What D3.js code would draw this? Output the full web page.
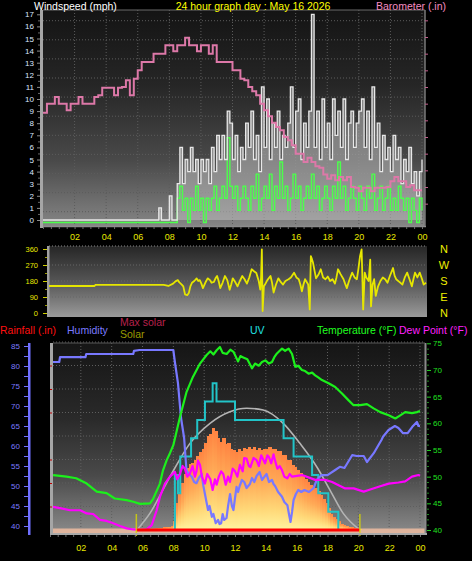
<!DOCTYPE html>
<html><head><meta charset="utf-8">
<script src="https://cdn.jsdelivr.net/npm/d3@7"></script>
<style>
body{margin:0;background:#000;overflow:hidden}
svg{display:block}
text{font-family:"Liberation Sans",Arial,sans-serif}
</style>
</head><body>
<svg id="c" width="472" height="561"></svg>
<script>
// ---------- DATA ----------
const hourLabels = ["02","04","06","08","10","12","14","16","18","20","22","00"];
const hourLabelHours = [2,4,6,8,10,12,14,16,18,20,22,24];

// wind, one value every 10 minutes from 00:00 to 24:00 (mph)
const windStepHours = 1/6;
const windGust = [
0,0,0,0,0,0,0,0,0,0, 0,0,0,0,0,0,0,0,0,0, 0,0,0,0,0,0,0,0,0,0, 0,0,0,0,0,0,0,0,0,0, 0,0,0,0,
1,0,0,0,2,0,0,
3,6,3,5,4,6,4,5,3,5,
4,5,3,6,4,7,5,7,5,9,
8,5,7,4,6,5,8,6,9,5,
7,4,11,6,10,5,8,6,9,5,
7,6,8,11,6,9,10,5,8,6,
9,17,6,9,5,10,6,8,5,10,
7,9,6,10,5,8,9,6,8,9,
10,6,9,5,11,6,8,4,7,5,
6,4,7,5,6,3,5,4,6,3,
4,2,4,5];
const windAvg = [
0,0,0,0,0,0,0,0,0,0, 0,0,0,0,0,0,0,0,0,0, 0,0,0,0,0,0,0,0,0,0, 0,0,0,0,0,0,0,0,0,0, 0,0,0,0,
0,0,0,0,0,0,0,
2,3,1,2,0,2,1,3,1,2,
0,2,1,2,3,1,2,3,2,7,
3,2,3,1,2,3,2,1,3,2,
4,1,2,3,2,4,1,3,2,5,
2,3,1,2,4,2,3,1,2,3,
2,4,2,3,1,2,3,2,1,3,
2,5,2,3,1,2,3,2,1,3,
2,1,3,2,4,1,2,3,1,2,
3,1,2,1,3,2,1,2,0,2,
1,0,2,1];
const windTicks = [0,1,2,3,4,5,6,7,8,9,10,11,12,13,14,15,16,17];

// barometer, one value every 15 minutes (inHg)
const baroStepHours = 0.25;
const baroValues = [
30.039,30.05,30.05,30.058,30.05,30.05,30.042,30.05,30.05,30.058,30.05,30.05,
30.05,30.058,30.06,30.069,30.069,30.069,30.06,30.069,30.07,30.078,30.06,30.08,
30.09,30.1,30.1,30.1,30.11,30.11,30.11,30.12,30.12,30.113,30.12,30.12,
30.129,30.12,30.12,30.113,30.12,30.12,30.11,30.12,30.1,30.1,30.1,30.1,
30.09,30.09,30.08,30.078,30.07,30.065,30.06,30.05,30.042,30.035,30.027,30.022,
30.018,30.01,30.006,30.0,29.99,29.99,29.98,29.985,29.98,29.975,29.973,29.965,
29.96,29.964,29.958,29.962,29.958,29.962,29.95,29.949,29.945,29.949,29.949,29.945,
29.949,29.949,29.949,29.95,29.957,29.962,29.957,29.957,29.95,29.952,29.946,29.946,
29.946];
const baroTicks = [29.92,29.94,29.96,29.98,30.0,30.02,30.04,30.06,30.08,30.1,30.12,30.14,30.16];
const baroTickLabels = ["29.92","29.94","29.96","29.98","30","30.02","30.04","30.06","30.08","30.1","30.12","30.14","30.16"];

// wind direction (degrees)
const dirHours = [0,2.9,2.95,7.3,7.6,7.9,8.05,8.2,8.3,8.45,8.55,8.66,8.8,8.9,9.0,9.1,9.25,9.4,9.5,9.6,9.7,9.8,9.95,10.1,10.25,10.35,10.5,10.6,10.7,10.8,10.9,11.05,11.2,11.35,11.5,11.6,11.7,11.85,12.0,12.15,12.3,12.45,12.6,12.75,12.9,13.05,13.2,13.35,13.45,13.5,13.55,13.6,13.68,13.75,13.9,14.1,14.2,14.3,14.45,14.6,14.75,14.9,15.05,15.25,15.4,15.6,15.75,15.9,16.0,16.1,16.2,16.3,16.4,16.5,16.6,16.67,16.75,16.8,16.9,17.0,17.15,17.3,17.45,17.6,17.75,17.9,18.05,18.2,18.3,18.4,18.55,18.75,18.85,18.96,19.1,19.3,19.45,19.6,19.7,19.8,19.9,19.95,20.0,20.1,20.2,20.35,20.45,20.5,20.6,20.7,20.8,20.95,21.1,21.25,21.4,21.55,21.7,21.8,21.9,22.0,22.1,22.3,22.5,22.65,22.8,22.95,23.1,23.2,23.3,23.45,23.6,23.75,23.85,24];
const dirValues = [152,152,158,158,152,165,178,185,172,160,150,105,100,112,150,170,180,195,180,185,165,140,170,195,185,170,175,195,208,180,140,170,208,185,131,160,195,175,150,180,208,190,165,200,246,235,225,180,131,200,358,11,150,160,185,208,170,115,160,195,175,160,180,190,200,227,200,190,160,122,160,190,175,160,20,320,300,286,240,195,215,246,200,190,205,180,190,165,200,246,220,190,165,140,180,227,200,190,250,320,358,200,20,227,200,180,300,37,160,190,96,150,180,200,190,170,208,230,253,210,190,175,160,200,227,190,150,190,227,200,227,190,160,170];
const dirTicks = [0,90,180,270,360];
const dirLetters = ["N","E","S","W","N"];

// humidity (%)
const humHours = [0,0.6,0.65,2.3,2.35,5.4,5.45,5.8,8.0,8.1,8.3,8.5,8.7,
  8.85,9.0,9.2,9.35,9.5,9.65,9.84,9.95,10.05,10.15,10.25,10.35,10.5,10.6,10.75,10.9,11.0,11.1,11.2,11.3,11.45,11.55,11.68,11.8,11.9,12.0,12.1,12.2,12.3,12.45,12.6,12.75,12.97,13.1,13.25,13.4,13.6,13.75,13.9,14.05,14.2,14.4,14.5,14.6,14.8,15.05,15.2,15.4,15.5,15.6,15.7,15.8,15.95,16.1,16.3,16.5,16.8,17.1,17.3,
  17.6,18.0,18.5,18.8,19.1,19.6,19.9,20.35,20.56,21.0,21.3,21.5,21.6,21.96,22.37,22.6,22.9,23.2,23.5,23.8,23.9,24];
const humValues = [81,81,82.2,82.2,83,83,83.8,84,84,81,75.7,67,62,
  54,53,52.3,51,50.7,52,53,50,48,46,44,45,42.3,43,40.7,41.5,40.5,40.7,43,41.5,42,45,48,45,44,47,49.8,48.5,50,51.5,51,49.5,50.5,52,51,52.5,53.5,51.5,52.3,53,51,51.5,50.5,50,48.5,47.3,46,45.2,43,41,43.5,46.5,48,49,48.5,49,48.5,49.5,51.5,
  52.7,52.7,54,54.8,54.5,57.7,57.5,57.5,56,58.2,60.2,61.5,62.3,64,65,64.5,63.2,63.2,64.8,66,65,65];
const humTicks = [40,45,50,55,60,65,70,75,80,85];

// temperature (°F)
const tempHours = [0.2,1.07,1.7,2.38,3.03,3.67,4.2,4.97,5.4,5.84,6.49,6.7,7.13,7.33,7.57,7.78,8.0,8.43,8.86,9.27,9.73,10.16,10.4,10.6,10.81,11.02,11.2,11.46,11.7,11.9,12.05,12.2,12.35,12.5,12.8,13.1,13.3,13.54,13.75,13.97,14.2,14.4,14.55,14.72,14.9,15.05,15.25,15.48,15.7,15.91,16.1,16.34,16.55,16.77,17.0,17.2,17.4,17.64,18.07,18.5,18.94,19.37,19.69,20.12,20.56,20.99,21.42,21.97,22.4,22.72,23.04,23.48,23.8,24];
const tempValues = [50.3,50,49.7,48.7,47.2,46.9,45.9,45.6,45.3,44.9,45,45.9,48.7,51.2,53.1,54.4,55.9,61.2,65.9,68.7,71.2,72.8,73.5,72.9,73.7,74.3,73.2,73,73.8,73.4,72.5,71.6,72.6,72.4,72,70.3,71.2,70.8,71.5,71.8,71.2,71.5,72.4,73.1,73.6,74,73.6,74,73,70.6,70.8,70,69.8,69.3,69.5,69,68.6,68.1,67.5,66.8,65.6,64.3,63.4,63.4,63.6,62.8,62.1,61.5,60.9,61.5,62.1,61.9,62.1,62.3];
// dew point (°F)
const dewHours = [0.1,0.65,1.3,1.95,2.38,2.8,3.24,3.67,4.1,4.54,4.97,5.4,5.84,6.27,6.6,6.92,7.13,7.46,7.78,
  8.1,8.25,8.43,8.6,8.75,8.9,9.08,9.25,9.4,9.5,9.6,9.73,9.85,10.05,10.2,10.4,10.55,10.7,10.81,10.95,11.1,11.24,11.4,11.55,11.67,11.85,12.0,12.15,12.32,12.5,12.6,12.75,12.9,13.0,13.2,13.4,13.55,13.7,13.8,13.95,14.1,14.2,14.35,14.5,14.6,14.75,14.9,15.05,15.2,15.4,15.55,15.7,
  16.35,17.2,17.85,18.3,18.72,19.15,19.7,20.35,20.67,21.32,21.97,22.6,23.04,23.48,23.9,24];
const dewValues = [44.4,44.1,43.7,43.7,43.1,43,41.9,41.7,41.25,40.75,40.3,40.1,40,40.1,40.9,43.7,46.2,48.7,50,
  50.9,49.5,50.5,52,51.5,50,50.6,52,50,51,53,52.2,50,48.7,50.5,49.5,47.5,49.5,48.5,50,51,50.5,48.5,50,49,51.5,51,50,52.2,51,53.5,53.4,52,51.8,53.5,53.1,52,54,53.4,52.5,54,53.7,52.5,54.2,53,51.5,52,51.2,50,49.7,50.5,50,
  50.3,49.4,49.4,49,48.4,47.8,47.8,47.2,47.5,48.1,48.7,48.9,49.1,50,50.3,50.2];
const tempTicks = [40,45,50,55,60,65,70,75];

// UV index (step changes, recorded 08:06 - 18:42)
const uvHours = [8.1,8.1,8.3,8.45,9.15,9.55,10.05,10.55,10.8,12.0,15.15,15.8,17.0,17.4,18.05,18.7];
const uvValues = [0,3,2,4,5,6,7,8,7,6,5,4,3,2,1,0];

// max solar (W/m2)
const maxSolarHours = [5.64,6.49,7.78,9.08,10.38,11.67,12.76,13.83,15.13,16.21,17.3,18.16,19.02,20.1];
const maxSolarValues = [0,108,340,553,681,755,777,766,681,553,404,255,106,0];

// solar (W/m2), one value every 10 minutes from 06:30
const solarStartHour = 6.5;
const solarStepHours = 1/6;
const solarValues = [5,8,10,12,15,18,20,22,25,
60,170,240,300,360,395,420,430,450,470,500,520,
555,600,615,650,630,585,
560,585,550,555,515,510,
495,515,505,525,515,532,
520,530,512,522,508,515,
520,528,515,520,505,502,
480,478,450,445,415,405,
383,365,345,325,305,290,
278,265,250,225,200,175,
140,105,85,70,55,40,
32,28,22,18,15,12,
8,0];

// rainfall (in)
const rainHours = [5.6,20.1];
const rainValues = [0,0];
const rainTicks = [0,0.1,0.2];
const rainTickLabels = ["0","0.1","0.2"];
const sunHours = [5.6,20.1];

// ---------- DRAW ----------
const svg = d3.select("#c");
const defs = svg.append("defs");
function vgrad(id, stops){
  const g = defs.append("linearGradient").attr("id", id)
    .attr("x1",0).attr("y1",0).attr("x2",0).attr("y2",1);
  stops.forEach(s => g.append("stop").attr("offset", s[0]).attr("stop-color", s[1]));
  return g;
}
vgrad("bgTop", [[0,"#141414"],[0.35,"#262626"],[0.7,"#4a4a4a"],[1,"#858585"]]);
vgrad("bgDir", [[0,"#262626"],[0.5,"#555555"],[1,"#9a9a9a"]]);
vgrad("bgBot", [[0,"#151515"],[0.4,"#2a2a2a"],[0.7,"#4a4a4a"],[1,"#8a8a8a"]]);
vgrad("solarG", [[0,"#ff8442"],[0.4,"#ffa956"],[0.75,"#ffd878"],[1,"#fff5a0"]]);

const FONT = "Liberation Sans, Arial, sans-serif";
function txt(x,y,s,color,size,anchor){
  return svg.append("text").attr("x",x).attr("y",y).text(s)
    .attr("fill",color).attr("font-size",size).attr("text-anchor",anchor||"start");
}
function styleAxis(g, lineColor, textColor, size){
  g.select(".domain").remove();
  g.selectAll("line").attr("stroke", lineColor);
  g.selectAll("text").attr("fill", textColor).attr("font-size", size).attr("font-family", FONT);
}

// ===== TOP PANEL =====
const T = {l:43, r:425, t:10, b:226};
const xTop = d3.scaleLinear([0,24],[43,422]);
const yWind = d3.scaleLinear([0,17],[220,14.3]);
const yBaro = d3.scaleLinear([29.92,30.16],[212,12]);

svg.append("rect").attr("x",T.l).attr("y",T.t).attr("width",T.r-T.l).attr("height",T.b-T.t).attr("fill","url(#bgTop)");
const gTop = svg.append("g").attr("stroke","#5c5c5c").attr("stroke-dasharray","1,2");
hourLabelHours.forEach(h => gTop.append("line").attr("x1",xTop(h)).attr("x2",xTop(h)).attr("y1",T.t).attr("y2",T.b));
for(let k=0;k<11;k++){ const y = 20.7 + k*19.1; gTop.append("line").attr("x1",T.l).attr("x2",T.r).attr("y1",y).attr("y2",y); }
svg.append("line").attr("x1",T.l).attr("x2",T.r).attr("y1",T.t).attr("y2",T.t).attr("stroke","#6a6a6a");

svg.append("clipPath").attr("id","clipTop").append("rect").attr("x",T.l).attr("y",T.t).attr("width",T.r-T.l).attr("height",T.b-T.t+1);
const topG = svg.append("g").attr("clip-path","url(#clipTop)");

const windPts = windGust.map((v,i)=>({h:i*windStepHours, g:v, a:windAvg[i]}));
topG.append("path").datum(windPts)
  .attr("d", d3.area().curve(d3.curveStepAfter).x(d=>xTop(d.h)).y0(yWind(0)).y1(d=>yWind(d.g)))
  .attr("fill","#c4c4c4").attr("opacity",0.5);
topG.append("path").datum(windPts)
  .attr("d", d3.line().curve(d3.curveStepAfter).x(d=>xTop(d.h)).y(d=>yWind(d.a)))
  .attr("fill","none").attr("stroke","#4cff4c").attr("stroke-width",1.4).attr("transform","translate(0,2.5)");
topG.append("path").datum(windPts)
  .attr("d", d3.line().curve(d3.curveStepAfter).x(d=>xTop(d.h)).y(d=>yWind(d.g)))
  .attr("fill","none").attr("stroke","#e8e8e8").attr("stroke-width",1.3);
topG.append("path").datum(baroValues.map((v,i)=>({h:i*baroStepHours, v})))
  .attr("d", d3.line().curve(d3.curveStepAfter).x(d=>xTop(d.h)).y(d=>yBaro(d.v)))
  .attr("fill","none").attr("stroke","#dd78a8").attr("stroke-width",2);

svg.append("rect").attr("x",40).attr("y",T.t).attr("width",3).attr("height",T.b-T.t+2).attr("fill","#a6a6a6");
svg.append("line").attr("x1",T.l).attr("x2",T.r+1).attr("y1",T.b+0.5).attr("y2",T.b+0.5).attr("stroke","#8c8c8c").attr("stroke-width",1.5);
svg.append("line").attr("x1",T.r).attr("x2",T.r).attr("y1",T.t).attr("y2",T.b).attr("stroke","#7a7a7a").attr("stroke-width",1.5);

const aW = svg.append("g").attr("transform","translate(40,0)")
  .call(d3.axisLeft(yWind).tickValues(windTicks).tickSize(3).tickPadding(3).tickFormat(d3.format("d")));
styleAxis(aW, "#8a8a8a", "#dce6ff", 8);
const aWm = svg.append("g").attr("transform","translate(40,0)")
  .call(d3.axisLeft(yWind).tickValues(windTicks.slice(0,-1).map(v=>v+0.5)).tickSize(2).tickFormat(""));
styleAxis(aWm, "#6a6a6a", "#000", 8);

svg.append("clipPath").attr("id","clipBaroAx").append("rect").attr("x",420).attr("y",11.5).attr("width",52).attr("height",220);
const aB = svg.append("g").attr("transform","translate(425,0)").attr("clip-path","url(#clipBaroAx)")
  .call(d3.axisRight(yBaro).tickValues(baroTicks).tickSize(3).tickPadding(3).tickFormat((d,i)=>baroTickLabels[i]));
styleAxis(aB, "#e07aaa", "#f08cc0", 8);
const aBm = svg.append("g").attr("transform","translate(425,0)")
  .call(d3.axisRight(yBaro).tickValues(baroTicks.slice(0,-1).map(v=>v+0.01)).tickSize(3).tickFormat(""));
styleAxis(aBm, "#c0608c", "#000", 8);

const halfHours = d3.range(0,24.01,0.5);
const aXt = svg.append("g").attr("transform",`translate(0,${T.b+1})`)
  .call(d3.axisBottom(xTop).tickValues(halfHours).tickSize(2).tickFormat(""));
styleAxis(aXt, "#6e6e6e", "#000", 8);
const aXtl = svg.append("g").attr("transform",`translate(0,${T.b+1})`)
  .call(d3.axisBottom(xTop).tickValues(hourLabelHours).tickSize(0).tickPadding(7).tickFormat((d,i)=>hourLabels[i]));
styleAxis(aXtl, "#000", "#e8e800", 9);

txt(34,10,"Windspeed (mph)","#ffffff",10.5);
txt(253,10,"24 hour graph day : May 16 2026","#ffff00",10.5,"middle");
txt(376,9.5,"Barometer (.in)","#f58cc0",10.5);

// ===== DIRECTION PANEL =====
const D = {l:49, r:427, t:246, b:317};
const xDir = d3.scaleLinear([0,24],[49,426]);
const yDir = d3.scaleLinear([0,360],[313,249]);
svg.append("rect").attr("x",D.l).attr("y",D.t).attr("width",D.r-D.l).attr("height",D.b-D.t).attr("fill","url(#bgDir)");
const gDir = svg.append("g").attr("stroke","#666").attr("stroke-dasharray","1,2");
gDir.append("line").attr("x1",D.l).attr("x2",D.r).attr("y1",D.t).attr("y2",D.t).attr("stroke","#8a8a8a");
[90,180,270].forEach(v=>gDir.append("line").attr("x1",D.l).attr("x2",D.r).attr("y1",yDir(v)).attr("y2",yDir(v)));
svg.append("rect").attr("x",47).attr("y",D.t).attr("width",2.5).attr("height",D.b-D.t).attr("fill","#a0a0a0");
svg.append("clipPath").attr("id","clipDir").append("rect").attr("x",D.l).attr("y",D.t).attr("width",D.r-D.l).attr("height",D.b-D.t);
svg.append("g").attr("clip-path","url(#clipDir)").append("path")
  .datum(dirHours.map((h,i)=>({h, v:dirValues[i]})))
  .attr("d", d3.line().x(d=>xDir(d.h)).y(d=>yDir(d.v)))
  .attr("fill","none").attr("stroke","#e6e600").attr("stroke-width",1.8).attr("stroke-linejoin","round");
const aD = svg.append("g").attr("transform","translate(47,0)")
  .call(d3.axisLeft(yDir).tickValues(dirTicks).tickSize(4).tickPadding(5).tickFormat(d3.format("d")));
styleAxis(aD, "#d0d000", "#e8e800", 7.5);
const aDm = svg.append("g").attr("transform","translate(47,0)")
  .call(d3.axisLeft(yDir).tickValues([45,135,225,315]).tickSize(2).tickFormat(""));
styleAxis(aDm, "#a0a000", "#000", 7);
dirTicks.forEach((v,i)=>txt(444, yDir(v)+4, dirLetters[i], "#f0f000", 11, "middle"));

// ===== LEGEND =====
txt(0,334,"Rainfall (.in)","#ff1010",10.5);
txt(67,334,"Humidity","#7a7aff",10.5);
txt(120,326,"Max solar","#b8204c",10.5);
txt(120,338,"Solar","#9a9a00",10.5);
txt(250,334,"UV","#20e0e0",10.5);
txt(317,334,"Temperature (°F)","#20ff20",10.5);
txt(399,334,"Dew Point (°F)","#ff20ff",10.5);

// ===== BOTTOM PANEL =====
const B = {l:53, r:425, t:343, b:533};
const xBot = d3.scaleLinear([0,24],[50,420]);
const yHum = d3.scaleLinear([40,85],[526,346]);
const yTemp = d3.scaleLinear([40,75],[530,343.3]);
const yRain = d3.scaleLinear([0,0.2],[530,342]);
const yUV = d3.scaleLinear([0,10],[530,346.5]);
const ySolar = d3.scaleLinear([0,1200],[530,342]);

svg.append("rect").attr("x",B.l).attr("y",B.t).attr("width",B.r-B.l).attr("height",B.b-B.t).attr("fill","url(#bgBot)");
const gBot = svg.append("g").attr("stroke","#5e5e5e").attr("stroke-dasharray","1,2");
hourLabelHours.forEach(h => gBot.append("line").attr("x1",xBot(h)).attr("x2",xBot(h)).attr("y1",B.t).attr("y2",B.b));
[0.025,0.05,0.075,0.1,0.125,0.15,0.175,0.2].forEach(v => gBot.append("line").attr("x1",B.l).attr("x2",B.r).attr("y1",yRain(v)).attr("y2",yRain(v)));

svg.append("clipPath").attr("id","clipBot").append("rect").attr("x",B.l).attr("y",B.t).attr("width",B.r-B.l).attr("height",B.b-B.t);
const bot = svg.append("g").attr("clip-path","url(#clipBot)");

bot.append("rect").attr("x",B.l).attr("y",528.5).attr("width",B.r-B.l).attr("height",4.5).attr("fill","#e9b9a0").attr("opacity",0.9);

const solarW = xBot(solarStepHours)-xBot(0);
bot.append("g").attr("shape-rendering","crispEdges").selectAll("rect").data(solarValues).join("rect")
  .attr("x",(d,i)=>xBot(solarStartHour+i*solarStepHours))
  .attr("width",solarW+0.8)
  .attr("y",d=>ySolar(d))
  .attr("height",d=>Math.max(0,ySolar(0)-ySolar(d)))
  .attr("fill","url(#solarG)");

bot.append("path").datum(maxSolarHours.map((h,i)=>({h,v:maxSolarValues[i]})))
  .attr("d", d3.line().curve(d3.curveMonotoneX).x(d=>xBot(d.h)).y(d=>ySolar(d.v)))
  .attr("fill","none").attr("stroke","#b4b4b4").attr("stroke-width",1.6);

bot.append("path").datum(uvHours.map((h,i)=>({h,v:uvValues[i]})))
  .attr("d", d3.line().curve(d3.curveStepAfter).x(d=>xBot(d.h)).y(d=>yUV(d.v)))
  .attr("fill","none").attr("stroke","#22c4c8").attr("stroke-width",2);

bot.append("path").datum(humHours.map((h,i)=>({h,v:humValues[i]})))
  .attr("d", d3.line().x(d=>xBot(d.h)).y(d=>yHum(d.v)))
  .attr("fill","none").attr("stroke","#7878ff").attr("stroke-width",2.2).attr("stroke-linejoin","round");
bot.append("path").datum(dewHours.map((h,i)=>({h,v:dewValues[i]})))
  .attr("d", d3.line().x(d=>xBot(d.h)).y(d=>yTemp(d.v)))
  .attr("fill","none").attr("stroke","#ff00ff").attr("stroke-width",2.2).attr("stroke-linejoin","round");
bot.append("path").datum(tempHours.map((h,i)=>({h,v:tempValues[i]})))
  .attr("d", d3.line().x(d=>xBot(d.h)).y(d=>yTemp(d.v)))
  .attr("fill","none").attr("stroke","#1cf01c").attr("stroke-width",2.2).attr("stroke-linejoin","round");
bot.append("path").datum(rainHours.map((h,i)=>({h,v:rainValues[i]})))
  .attr("d", d3.line().x(d=>xBot(d.h)).y(d=>yRain(d.v)))
  .attr("fill","none").attr("stroke","#ff0000").attr("stroke-width",3);
sunHours.forEach(h => svg.append("line").attr("x1",xBot(h)).attr("x2",xBot(h)).attr("y1",514).attr("y2",536)
  .attr("stroke","#d8d800").attr("stroke-width",1.5).attr("opacity",0.8));

svg.append("rect").attr("x",50).attr("y",B.t).attr("width",3).attr("height",B.b-B.t+2).attr("fill","#a6a6a6");
svg.append("rect").attr("x",B.l).attr("y",B.b).attr("width",B.r-B.l+2).attr("height",2).attr("fill","#a8a8a8");
svg.append("line").attr("x1",B.r+0.5).attr("x2",B.r+0.5).attr("y1",B.t).attr("y2",B.b).attr("stroke","#8a8a8a").attr("stroke-width",2);
svg.append("line").attr("x1",B.l).attr("x2",B.r).attr("y1",B.t).attr("y2",B.t).attr("stroke","#5a5a5a");

svg.append("rect").attr("x",28).attr("y",B.t).attr("width",2.5).attr("height",B.b-B.t+2).attr("fill","#7070ff");
const aH = svg.append("g").attr("transform","translate(28,0)")
  .call(d3.axisLeft(yHum).tickValues(humTicks).tickSize(4).tickPadding(4).tickFormat(d3.format("d")));
styleAxis(aH, "#7070ff", "#7a7aff", 8);
const aHm = svg.append("g").attr("transform","translate(28,0)")
  .call(d3.axisLeft(yHum).tickValues(humTicks.slice(0,-1).map(v=>v+2.5)).tickSize(4).tickFormat(""));
styleAxis(aHm, "#7070ff", "#000", 8);

svg.append("clipPath").attr("id","clipRainAx").append("rect").attr("x",30).attr("y",341.5).attr("width",22).attr("height",200);
const aR = svg.append("g").attr("transform","translate(52,0)").attr("clip-path","url(#clipRainAx)")
  .call(d3.axisLeft(yRain).tickValues(rainTicks).tickSize(2).tickPadding(6).tickFormat((d,i)=>rainTickLabels[i]));
styleAxis(aR, "#d00000", "#e00000", 8);
const aRm = svg.append("g").attr("transform","translate(52,0)")
  .call(d3.axisLeft(yRain).tickValues([0.025,0.05,0.075,0.125,0.15,0.175]).tickSize(2).tickFormat(""));
styleAxis(aRm, "#c00000", "#000", 8);

const aT = svg.append("g").attr("transform","translate(427,0)")
  .call(d3.axisRight(yTemp).tickValues(tempTicks).tickSize(4).tickPadding(2).tickFormat(d3.format("d")));
styleAxis(aT, "#20d020", "#20e020", 8);
const aTm = svg.append("g").attr("transform","translate(427,0)")
  .call(d3.axisRight(yTemp).tickValues(d3.range(41,75,1).filter(v=>v%5)).tickSize(2).tickFormat(""));
styleAxis(aTm, "#208a20", "#000", 8);

const aXb = svg.append("g").attr("transform",`translate(0,${B.b+2})`)
  .call(d3.axisBottom(xBot).tickValues(halfHours).tickSize(2).tickFormat(""));
styleAxis(aXb, "#6e6e6e", "#000", 8);
const aXbl = svg.append("g").attr("transform",`translate(0,${B.b+2})`)
  .call(d3.axisBottom(xBot).tickValues(hourLabelHours).tickSize(0).tickPadding(10).tickFormat((d,i)=>hourLabels[i]));
styleAxis(aXbl, "#000", "#e8e800", 9);
</script>
</body></html>
